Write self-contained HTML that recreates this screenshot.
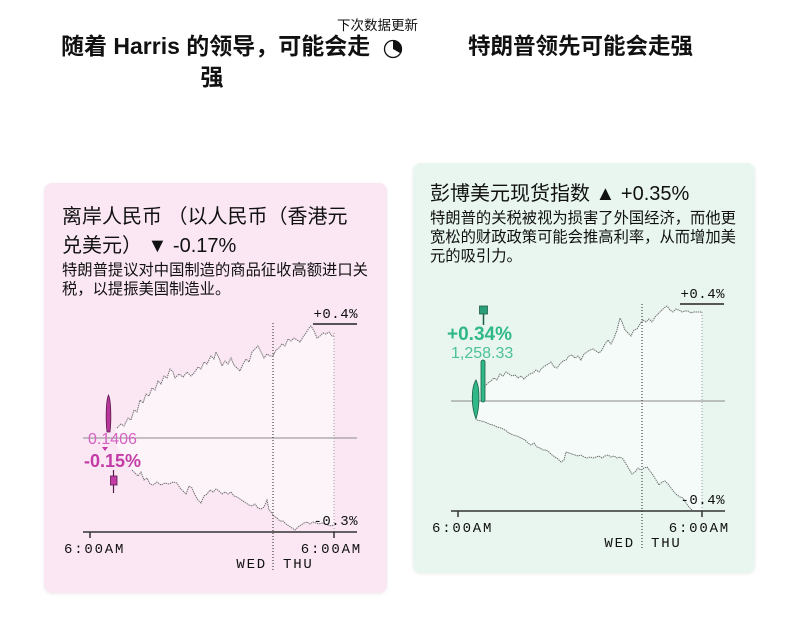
<!DOCTYPE html>
<html><head><meta charset="utf-8">
<style>
html,body{margin:0;padding:0;background:#fff;}
svg{display:block;}
text{font-family:"Liberation Sans","Noto Sans CJK SC",sans-serif;fill:#111;}
.mono{font-family:"Liberation Mono","DejaVu Sans Mono",monospace;font-size:14px;letter-spacing:1.8px;}
.mv{font-family:"Liberation Mono","DejaVu Sans Mono",monospace;font-size:14px;letter-spacing:0.5px;}
.ser{fill:none;stroke:#6d6d6d;stroke-width:1;stroke-dasharray:1.4 0.8;}
</style></head>
<body>
<svg width="800" height="641" viewBox="0 0 800 641" xmlns="http://www.w3.org/2000/svg">
<defs>
<filter id="sh" x="-5%" y="-5%" width="110%" height="110%">
<feDropShadow dx="0" dy="1" stdDeviation="1.5" flood-color="#000" flood-opacity="0.08"/>
</filter>
</defs>
<rect width="800" height="641" fill="#fff"/>

<!-- Header -->
<text x="61" y="54" font-size="23" font-weight="bold">随着 Harris 的领导，可能会走</text>
<text x="212" y="85" font-size="23" font-weight="bold" text-anchor="middle">强</text>
<text x="337" y="30" font-size="13.5">下次数据更新</text>
<circle cx="393" cy="49" r="8.5" fill="#fff" stroke="#111" stroke-width="1.3"/>
<path d="M393,49 L393,40.5 A8.5,8.5 0 0 1 400.4,53.25 Z" fill="#111"/>
<text x="468" y="54" font-size="22.5" font-weight="bold">特朗普领先可能会走强</text>

<!-- Pink panel -->
<rect x="44" y="183" width="343" height="410" rx="8" fill="#fbe7f4" filter="url(#sh)"/>
<text x="62" y="223" font-size="20">离岸人民币 （以人民币（香港元</text>
<text x="62" y="252" font-size="20">兑美元） ▼ -0.17%</text>
<text x="62" y="275" font-size="15.3">特朗普提议对中国制造的商品征收高额进口关</text>
<text x="62" y="294" font-size="15.3">税，以提振美国制造业。</text>

<polygon fill="#fdf4fa" points="112,438 117,428 121,424 124,426 128,418 131,420 134,410 137,412 140,400 143,403 146,394 149,396 152,388 155,390 158,381 161,384 164,376 167,378 170,369 173,372 175,378 179,374 183,377 187,372 191,376 194,373 198,367 201,369 204,362 207,364 211,356 214,359 216,352 219,358 222,366 225,361 228,364 231,358 234,365 237,368 240,371 243,364 246,359 249,362 252,352 255,349 258,346 261,352 264,358 267,354 270,356 273,356 276,350 279,348 282,344 285,346 288,339 291,341 294,338 297,340 300,342 303,337 306,333 309,328 311,326 314,331 317,338 320,336 323,333 326,334 329,332 332,336 334,336 334,525 331,526 328,525 325,524 322,523 319,524 316,523 313,522 310,524 307,522 304,523 301,525 298,527 295,530 292,528 289,526 286,524 283,521 280,521 277,518 274,516 271,512 269,510 267,500 264,507 261,509 258,508 255,504 252,506 249,505 246,503 243,501 240,499 237,497 234,496 231,492 228,494 225,492 222,494 219,491 216,489 213,492 210,490 207,494 204,496 201,503 198,500 195,495 192,488 189,486 186,494 183,491 180,488 177,483 173,482 169,484 165,483 161,485 157,482 153,485 150,484 147,478 144,480 141,472 138,476 135,473 132,470"/>
<line x1="83" y1="438" x2="357" y2="438" stroke="#8a8a8a" stroke-width="1"/>
<line x1="273" y1="323" x2="273" y2="570" stroke="#222" stroke-width="1" stroke-dasharray="1 2"/>
<line x1="334" y1="333" x2="334" y2="532" stroke="#999" stroke-width="1" stroke-dasharray="1 2"/>
<polyline class="ser" points="117,428 121,424 124,426 128,418 131,420 134,410 137,412 140,400 143,403 146,394 149,396 152,388 155,390 158,381 161,384 164,376 167,378 170,369 173,372 175,378 179,374 183,377 187,372 191,376 194,373 198,367 201,369 204,362 207,364 211,356 214,359 216,352 219,358 222,366 225,361 228,364 231,358 234,365 237,368 240,371 243,364 246,359 249,362 252,352 255,349 258,346 261,352 264,358 267,354 270,356 273,356 276,350 279,348 282,344 285,346 288,339 291,341 294,338 297,340 300,342 303,337 306,333 309,328 311,326 314,331 317,338 320,336 323,333 326,334 329,332 332,336 334,336"/>
<polyline class="ser" points="132,470 135,473 138,476 141,472 144,480 147,478 150,484 153,485 157,482 161,485 165,483 169,484 173,482 177,483 180,488 183,491 186,494 189,486 192,488 195,495 198,500 201,503 204,496 207,494 210,490 213,492 216,489 219,491 222,494 225,492 228,494 231,492 234,496 237,497 240,499 243,501 246,503 249,505 252,506 255,504 258,508 261,509 264,507 267,500 269,510 271,512 274,516 277,518 280,521 283,521 286,524 289,526 292,528 295,530 298,527 301,525 304,523 307,522 310,524 313,522 316,523 319,524 322,523 325,524 328,525 331,526 334,525"/>
<text class="mv" x="358" y="318" text-anchor="end">+0.4%</text>
<line x1="313" y1="324" x2="357" y2="324" stroke="#222" stroke-width="1.5"/>
<text class="mv" x="358" y="525" text-anchor="end">-0.3%</text>
<line x1="83" y1="532" x2="357" y2="532" stroke="#333" stroke-width="1.5"/>
<line x1="90" y1="532" x2="90" y2="538" stroke="#333" stroke-width="1.5"/>
<line x1="334" y1="532" x2="334" y2="538" stroke="#333" stroke-width="1.5"/>
<text class="mono" x="64" y="553">6:00AM</text>
<text class="mono" x="362" y="553" text-anchor="end">6:00AM</text>
<text class="mono" x="267" y="568" text-anchor="end">WED</text>
<text class="mono" x="283" y="568">THU</text>
<!-- pink indicator -->
<path d="M108.5,395 C106,400 105.5,420 107,432 L110,432 C111.5,420 111,400 108.5,395 Z" fill="#b8359a" stroke="#5a1a4c" stroke-width="0.8"/>
<text x="88" y="444" font-size="16" style="fill:#d660c0">0.1406</text>
<path d="M102,447 L108,447 L105,451 Z" fill="#c23ba6"/>
<text x="84" y="467" font-size="18" font-weight="bold" style="fill:#c23ba6">-0.15%</text>
<line x1="113.5" y1="470" x2="113.5" y2="493" stroke="#5a1a4c" stroke-width="1.2"/>
<rect x="110.5" y="476" width="6.5" height="9" fill="#c23ba6" stroke="#5a1a4c" stroke-width="0.8"/>

<!-- Green panel -->
<rect x="413" y="163" width="342" height="410" rx="8" fill="#e8f6ef" filter="url(#sh)"/>
<text x="430" y="200" font-size="20">彭博美元现货指数 ▲ +0.35%</text>
<text x="430" y="223" font-size="15.3">特朗普的关税被视为损害了外国经济，而他更</text>
<text x="430" y="242" font-size="15.3">宽松的财政政策可能会推高利率，从而增加美</text>
<text x="430" y="261" font-size="15.3">元的吸引力。</text>

<polygon fill="#f5fbf8" points="477,401 482,390 485,386 488,383 491,381 494,378 497,380 500,374 503,376 506,372 509,374 512,376 515,375 518,378 521,376 524,379 527,376 530,374 533,373 536,370 539,372 542,368 545,366 548,364 551,362 554,367 557,368 560,364 563,361 566,360 569,356 572,355 575,358 578,356 581,360 584,354 587,352 590,350 593,349 596,351 599,353 602,350 605,344 608,340 611,344 614,338 617,330 620,318 622,322 625,330 628,333 631,336 634,330 637,329 640,324 643,320 646,322 649,319 652,322 655,317 658,314 661,311 664,308 667,306 670,310 673,312 676,309 679,310 682,312 685,311 688,311 691,313 694,312 697,312 702,312 702,511 692,510 689,507 686,503 683,498 680,497 677,495 674,492 671,488 668,484 665,481 662,482 659,485 656,480 653,475 650,471 647,467 644,468 641,470 638,468 635,472 632,474 629,469 626,464 623,459 620,457 617,458 614,456 611,457 608,455 605,456 602,458 599,456 596,457 593,458 590,457 587,458 584,457 581,455 578,456 575,455 572,454 569,453 566,452 564,460 561,462 558,459 555,457 552,455 549,452 546,450 543,450 540,448 537,447 534,443 531,445 528,443 525,440 521,438 517,436 513,435 509,433 505,430 501,428 497,427 493,425 489,424 485,422 481,421 477,420"/>
<line x1="451" y1="401" x2="725" y2="401" stroke="#8a8a8a" stroke-width="1"/>
<line x1="642" y1="304" x2="642" y2="550" stroke="#222" stroke-width="1" stroke-dasharray="1 2"/>
<line x1="702" y1="312" x2="702" y2="511" stroke="#999" stroke-width="1" stroke-dasharray="1 2"/>
<polyline class="ser" points="482,390 485,386 488,383 491,381 494,378 497,380 500,374 503,376 506,372 509,374 512,376 515,375 518,378 521,376 524,379 527,376 530,374 533,373 536,370 539,372 542,368 545,366 548,364 551,362 554,367 557,368 560,364 563,361 566,360 569,356 572,355 575,358 578,356 581,360 584,354 587,352 590,350 593,349 596,351 599,353 602,350 605,344 608,340 611,344 614,338 617,330 620,318 622,322 625,330 628,333 631,336 634,330 637,329 640,324 643,320 646,322 649,319 652,322 655,317 658,314 661,311 664,308 667,306 670,310 673,312 676,309 679,310 682,312 685,311 688,311 691,313 694,312 697,312 702,312"/>
<polyline class="ser" points="477,420 481,421 485,422 489,424 493,425 497,427 501,428 505,430 509,433 513,435 517,436 521,438 525,440 528,443 531,445 534,443 537,447 540,448 543,450 546,450 549,452 552,455 555,457 558,459 561,462 564,460 566,452 569,453 572,454 575,455 578,456 581,455 584,457 587,458 590,457 593,458 596,457 599,456 602,458 605,456 608,455 611,457 614,456 617,458 620,457 623,459 626,464 629,469 632,474 635,472 638,468 641,470 644,468 647,467 650,471 653,475 656,480 659,485 662,482 665,481 668,484 671,488 674,492 677,495 680,497 683,498 686,503 689,507 692,510"/>
<text class="mv" x="725" y="298" text-anchor="end">+0.4%</text>
<line x1="680" y1="304" x2="724" y2="304" stroke="#222" stroke-width="1.5"/>
<text class="mv" x="725" y="504" text-anchor="end">-0.4%</text>
<line x1="451" y1="511" x2="725" y2="511" stroke="#333" stroke-width="1.5"/>
<line x1="458" y1="511" x2="458" y2="517" stroke="#333" stroke-width="1.5"/>
<line x1="702" y1="511" x2="702" y2="517" stroke="#333" stroke-width="1.5"/>
<text class="mono" x="432" y="532">6:00AM</text>
<text class="mono" x="730" y="532" text-anchor="end">6:00AM</text>
<text class="mono" x="635" y="547" text-anchor="end">WED</text>
<text class="mono" x="651" y="547">THU</text>
<!-- green indicator -->
<line x1="483.5" y1="314" x2="483.5" y2="325" stroke="#1d5e47" stroke-width="1.5"/>
<rect x="479.5" y="306" width="8" height="8" fill="#2a9e78" stroke="#1d5e47" stroke-width="0.8"/>
<text x="447" y="340" font-size="19" font-weight="bold" style="fill:#2fb888">+0.34%</text>
<text x="451" y="358" font-size="16" style="fill:#4cc296">1,258.33</text>
<rect x="481" y="360" width="4" height="42" rx="2" fill="#2fb888" stroke="#1d5e47" stroke-width="0.8"/>
<path d="M476,380 C471,388 471,406 476,419 C480,406 480,388 476,380 Z" fill="#2fb888" stroke="#1d5e47" stroke-width="0.8"/>
</svg>
</body></html>
